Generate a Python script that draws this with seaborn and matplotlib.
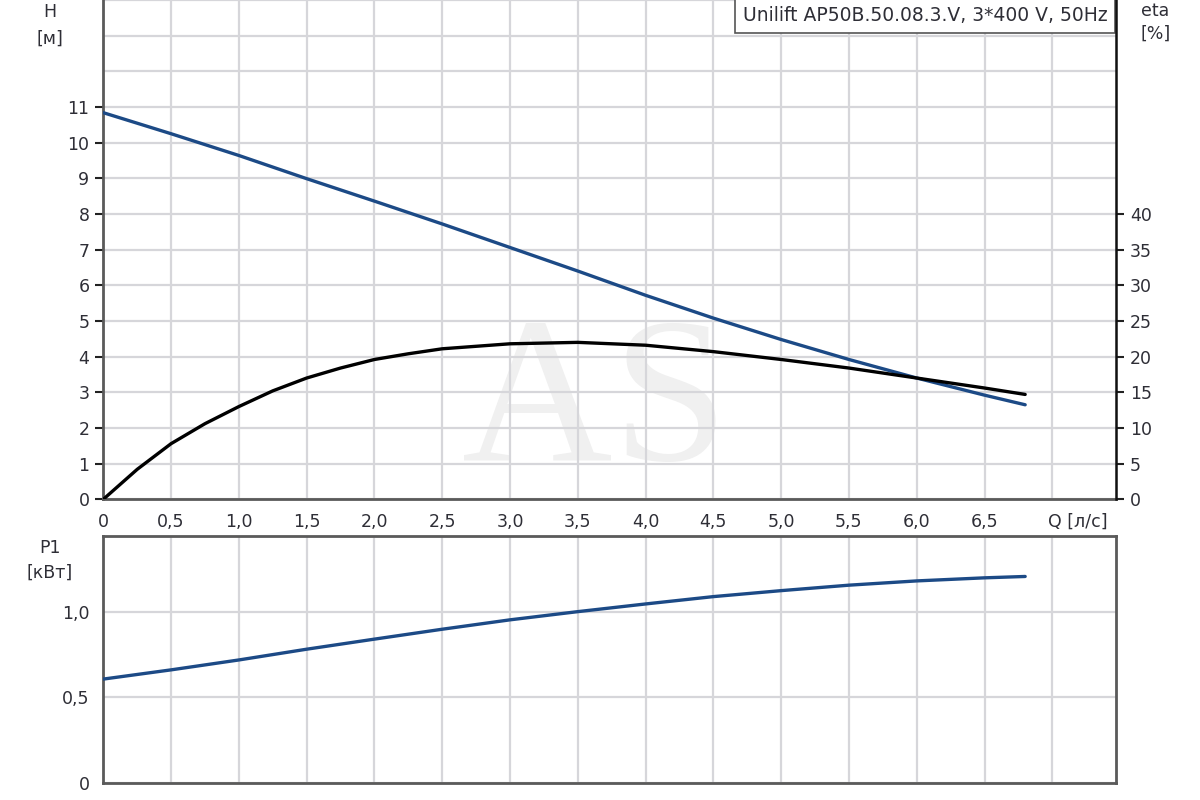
import matplotlib
matplotlib.use("Agg")
import matplotlib.pyplot as plt
import seaborn as sns
import pandas as pd

# ---- data ----
q_values = [0, 0.5, 1.0, 1.5, 2.0, 2.5, 3.0, 3.5, 4.0, 4.5, 5.0, 5.5, 6.0, 6.5, 6.8]
h_values = [10.84, 10.25, 9.64, 8.99, 8.36, 7.72, 7.06, 6.40, 5.72, 5.08, 4.48, 3.92, 3.40, 2.92, 2.65]
p1_values = [0.607, 0.661, 0.719, 0.782, 0.841, 0.899, 0.954, 1.002, 1.047, 1.09, 1.125, 1.157, 1.182, 1.20, 1.208]

q_eta = [0, 0.25, 0.5, 0.75, 1.0, 1.25, 1.5, 1.75, 2.0, 2.25, 2.5, 3.0, 3.5, 4.0, 4.5, 5.0, 5.5, 6.0, 6.5, 6.8]
eta_values = [0, 4.2, 7.8, 10.6, 13.0, 15.2, 17.0, 18.4, 19.6, 20.4, 21.1, 21.8, 22.0, 21.6, 20.7, 19.6, 18.4, 17.0, 15.6, 14.7]

x_ticks = [0, 0.5, 1.0, 1.5, 2.0, 2.5, 3.0, 3.5, 4.0, 4.5, 5.0, 5.5, 6.0, 6.5, 7.0]
x_tick_labels = ["0", "0,5", "1,0", "1,5", "2,0", "2,5", "3,0", "3,5", "4,0", "4,5",
                 "5,0", "5,5", "6,0", "6,5", ""]
h_ticks = list(range(0, 12))
eta_ticks = [0, 5, 10, 15, 20, 25, 30, 35, 40]
p1_ticks = [0, 0.5, 1.0]
p1_tick_labels = ["0", "0,5", "1,0"]
title_text = "Unilift AP50B.50.08.3.V, 3*400 V, 50Hz"

df = pd.DataFrame({"Q": q_values, "H": h_values, "P1": p1_values})
df_eta = pd.DataFrame({"Q": q_eta, "eta": eta_values})

sns.set_style("white")
plt.rcParams["font.family"] = ["DejaVu Sans"]

BLUE = "#1c4a86"
GRID = "#d6d6da"
TXT = "#2e2e36"
SPINE = "#5a5a5a"
FS = 12.5

fig = plt.figure(figsize=(12, 8), dpi=100)
ax = fig.add_axes([0.0861, 0.3759, 0.8439, 0.6241])
ax2 = ax.twinx()
axp = fig.add_axes([0.0861, 0.0216, 0.8439, 0.3084])

XMAX = 7.47

# watermark
ax.text(3.63, 2.5, "AS", fontsize=150, family="Liberation Serif", color="#f0f0f0",
        ha="center", va="center", zorder=0.5)

for a in (ax, axp):
    a.set_xlim(0, XMAX)
    a.set_xticks(x_ticks)
    a.set_axisbelow(True)

ax.set_ylim(0, 14)
ax.set_yticks(range(0, 15))
ax.set_yticklabels([str(v) if v in h_ticks else "" for v in range(0, 15)])
ax.grid(True, color=GRID, linewidth=1.6)
ax.set_xticklabels(x_tick_labels)

sns.lineplot(data=df, x="Q", y="H", ax=ax, color=BLUE, linewidth=2.4, zorder=3)
sns.lineplot(data=df_eta, x="Q", y="eta", ax=ax2, color="black", linewidth=2.4, zorder=3)
ax.set_xlabel("")
ax.set_ylabel("")
ax2.set_ylabel("")

ax2.set_ylim(0, 70)
ax2.set_yticks(eta_ticks)
ax2.set_yticklabels([str(v) for v in eta_ticks])
ax2.grid(False)

for t, v in zip(ax.yaxis.get_major_ticks(), range(0, 15)):
    if v > 11:
        t.tick1line.set_visible(False)

ax.tick_params(axis="both", direction="out", length=6, width=1.5, color="#222222",
               labelsize=FS, labelcolor=TXT, pad=4)
ax2.tick_params(axis="y", direction="out", length=6, width=1.5, color="#222222",
                labelsize=FS, labelcolor=TXT, pad=4)

for a in (ax, ax2):
    a.spines["top"].set_visible(False)
ax.spines["left"].set_color(SPINE)
ax.spines["left"].set_linewidth(2)
ax.spines["bottom"].set_color(SPINE)
ax.spines["bottom"].set_linewidth(2)
ax2.spines["right"].set_color("#111111")
ax2.spines["right"].set_linewidth(1.8)
ax2.spines["left"].set_visible(False)
ax2.spines["bottom"].set_visible(False)

ax.text(7.19, -0.62, "Q [л/с]", fontsize=FS, color=TXT, ha="center", va="center")

# title box
ax.text(0.9915, 0.968, title_text, transform=ax.transAxes, fontsize=13.5, color=TXT,
        ha="right", va="center", zorder=5,
        bbox=dict(boxstyle="square,pad=0.4", facecolor="white", edgecolor="#555555", linewidth=1.2))

# axis unit labels
fig.text(0.0415, 0.985, "H", fontsize=FS, color=TXT, ha="center", va="center")
fig.text(0.0415, 0.952, "[м]", fontsize=FS, color=TXT, ha="center", va="center")
fig.text(0.963, 0.986, "eta", fontsize=FS, color=TXT, ha="center", va="center")
fig.text(0.963, 0.958, "[%]", fontsize=FS, color=TXT, ha="center", va="center")

# bottom panel
sns.lineplot(data=df, x="Q", y="P1", ax=axp, color=BLUE, linewidth=2.4, zorder=3)
axp.set_xlabel("")
axp.set_ylabel("")
axp.set_ylim(0, 1.445)
axp.set_yticks(p1_ticks)
axp.set_yticklabels(p1_tick_labels)
axp.grid(True, color=GRID, linewidth=1.6)
axp.tick_params(axis="y", direction="out", length=6, width=1.5, color="#222222",
                labelsize=FS, labelcolor=TXT, pad=4)
axp.tick_params(axis="x", length=0, labelbottom=False)
for s in axp.spines.values():
    s.set_visible(True)
    s.set_color(SPINE)
    s.set_linewidth(2)

fig.text(0.0415, 0.315, "P1", fontsize=FS, color=TXT, ha="center", va="center")
fig.text(0.0415, 0.284, "[кВт]", fontsize=FS, color=TXT, ha="center", va="center")

fig.savefig("out.png", dpi=100)
